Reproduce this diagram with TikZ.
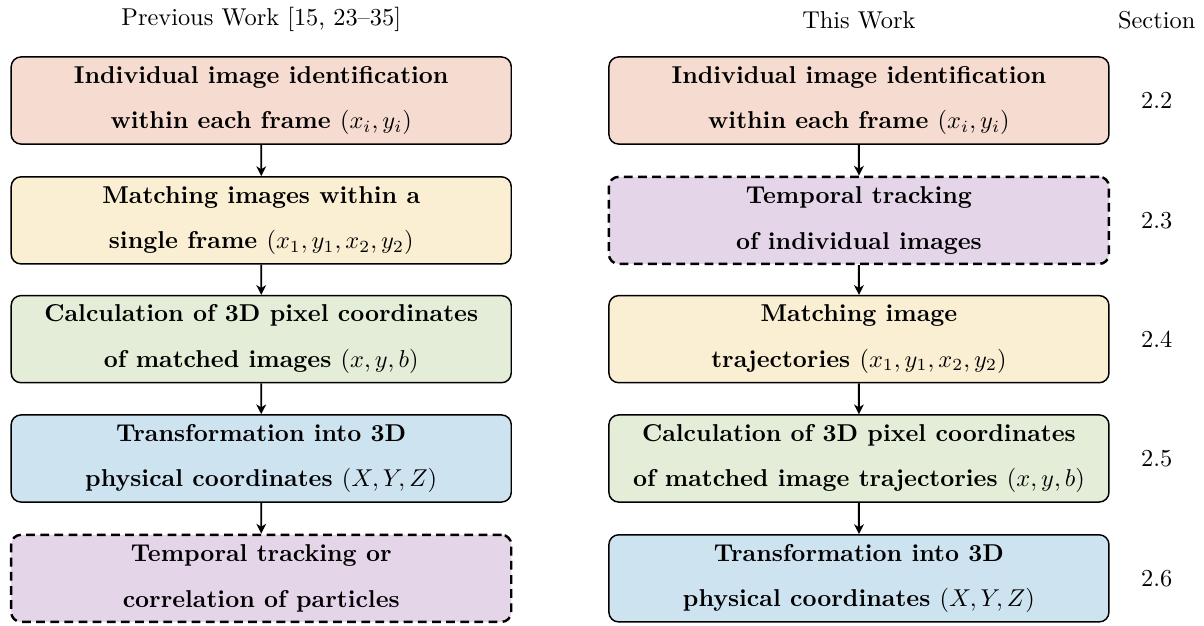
\documentclass[tikz,border=0pt]{standalone}
\usepackage{amsmath}
\usetikzlibrary{arrows.meta}

\definecolor{identfill}{HTML}{F6DBD0}
\definecolor{matchfill}{HTML}{FAEFD2}
\definecolor{coordfill}{HTML}{E4EDD7}
\definecolor{physfill}{HTML}{CDE3F0}
\definecolor{trackfill}{HTML}{E4D5E9}

\begin{document}
\begin{tikzpicture}[scale=0.775,
		stage/.style={draw, semithick, rounded corners=4pt, align=center,
			minimum width=7.21cm, minimum height=1.256cm, inner sep=0pt,
			font=\linespread{1.55}\selectfont\bfseries},
		newstage/.style={stage, line width=1pt, dash pattern=on 3.6pt off 2.2pt},
		flow/.style={thick, -{Stealth[length=4pt, width=4pt, inset=1.2pt]}}]
			\useasboundingbox (0, 0) rectangle (22.4, -11.64);

			% column headings
			\node (prevHead) at (4.86, -0.37) {Previous Work [15, 23--35]};
			\node (thisHead) at (15.98, -0.37) {This Work};
			\node (secHead) at (21.52, -0.37) {Section};

			% previous pipeline
			\node[stage, fill=identfill] (prevIdent) at (4.86, -1.87) {Individual image identification\\ within each frame $(x_i, y_i)$};
			\node[stage, fill=matchfill] (prevMatch) at (4.86, -4.10) {Matching images within a\\ single frame $(x_1, y_1, x_2, y_2)$};
			\node[stage, fill=coordfill] (prevPix) at (4.86, -6.31) {Calculation of 3D pixel coordinates\\ of matched images $(x, y, b)$};
			\node[stage, fill=physfill] (prevPhys) at (4.86, -8.53) {Transformation into 3D\\ physical coordinates $(X, Y, Z)$};
			\node[newstage, fill=trackfill] (prevTrack) at (4.86, -10.76) {Temporal tracking or\\ correlation of particles};

			% this pipeline
			\node[stage, fill=identfill] (thisIdent) at (15.98, -1.87) {Individual image identification\\ within each frame $(x_i, y_i)$};
			\node[newstage, fill=trackfill] (thisTrack) at (15.98, -4.10) {Temporal tracking\\ of individual images};
			\node[stage, fill=matchfill] (thisMatch) at (15.98, -6.31) {Matching image\\ trajectories $(x_1, y_1, x_2, y_2)$};
			\node[stage, fill=coordfill] (thisPix) at (15.98, -8.53) {Calculation of 3D pixel coordinates\\ of matched image trajectories $(x, y, b)$};
			\node[stage, fill=physfill] (thisPhys) at (15.98, -10.76) {Transformation into 3D\\ physical coordinates $(X, Y, Z)$};

			% section numbers
			\node (secA) at (21.52, -1.87) {2.2};
			\node (secB) at (21.52, -4.10) {2.3};
			\node (secC) at (21.52, -6.31) {2.4};
			\node (secD) at (21.52, -8.53) {2.5};
			\node (secE) at (21.52, -10.76) {2.6};

			\draw[flow] (prevIdent) -- (prevMatch);
			\draw[flow] (prevMatch) -- (prevPix);
			\draw[flow] (prevPix) -- (prevPhys);
			\draw[flow] (prevPhys) -- (prevTrack);
			\draw[flow] (thisIdent) -- (thisTrack);
			\draw[flow] (thisTrack) -- (thisMatch);
			\draw[flow] (thisMatch) -- (thisPix);
			\draw[flow] (thisPix) -- (thisPhys);
\end{tikzpicture}
\end{document}
